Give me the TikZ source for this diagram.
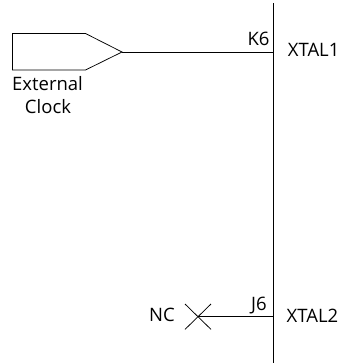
\documentclass[tikz,border=0pt]{standalone}
\usepackage{fontspec}
\setmainfont{Open Sans}
\tikzset{
  lbl/.style={inner sep=0pt,font=\fontsize{18.5}{22}\selectfont,text=black},
  wire/.style={draw=black,line width=1pt},
  bus/.style={draw=black,line width=1pt},
  thin wire/.style={draw=black,line width=0.75pt}
}
\begin{document}
\begin{tikzpicture}[x=1pt,y=-1pt]
\useasboundingbox (0,0) rectangle (343,364);
\coordinate (busT) at (273,3);
\coordinate (busB) at (273,363);
\coordinate (k6) at (273,52);
\coordinate (j6) at (273,316.7);
\coordinate (clk) at (122,52);
\coordinate (nc) at (198,316.7);
\coordinate (x1) at (185,304);
\coordinate (x2) at (211,329.4);
\coordinate (x3) at (185,329.4);
\coordinate (x4) at (211,304);
\draw[bus] (busT) -- (busB);
\draw[thin wire,line join=miter] (clk) -- (85.5,33.5) -- (12.5,33.5) -- (12.5,70) -- (85.5,70) -- cycle;
\draw[wire] (clk) -- (k6);
\draw[wire] (nc) -- (j6);
\draw[thin wire] (x1) -- (x2);
\draw[thin wire] (x3) -- (x4);
\node[lbl,anchor=base] (ext) at (47.5,90) {External};
\node[lbl,anchor=base] (clock) at (48,113) {Clock};
\node[lbl,anchor=base] (k6l) at (258.5,45.7) {K6};
\node[lbl,anchor=base] (j6l) at (259,310) {J6};
\node[lbl,anchor=base west] (xt1) at (287.7,56.5) {XTAL1};
\node[lbl,anchor=base west] (xt2) at (286.5,322) {XTAL2};
\node[lbl,anchor=base] (ncl) at (162,321) {NC};
\end{tikzpicture}
\end{document}
